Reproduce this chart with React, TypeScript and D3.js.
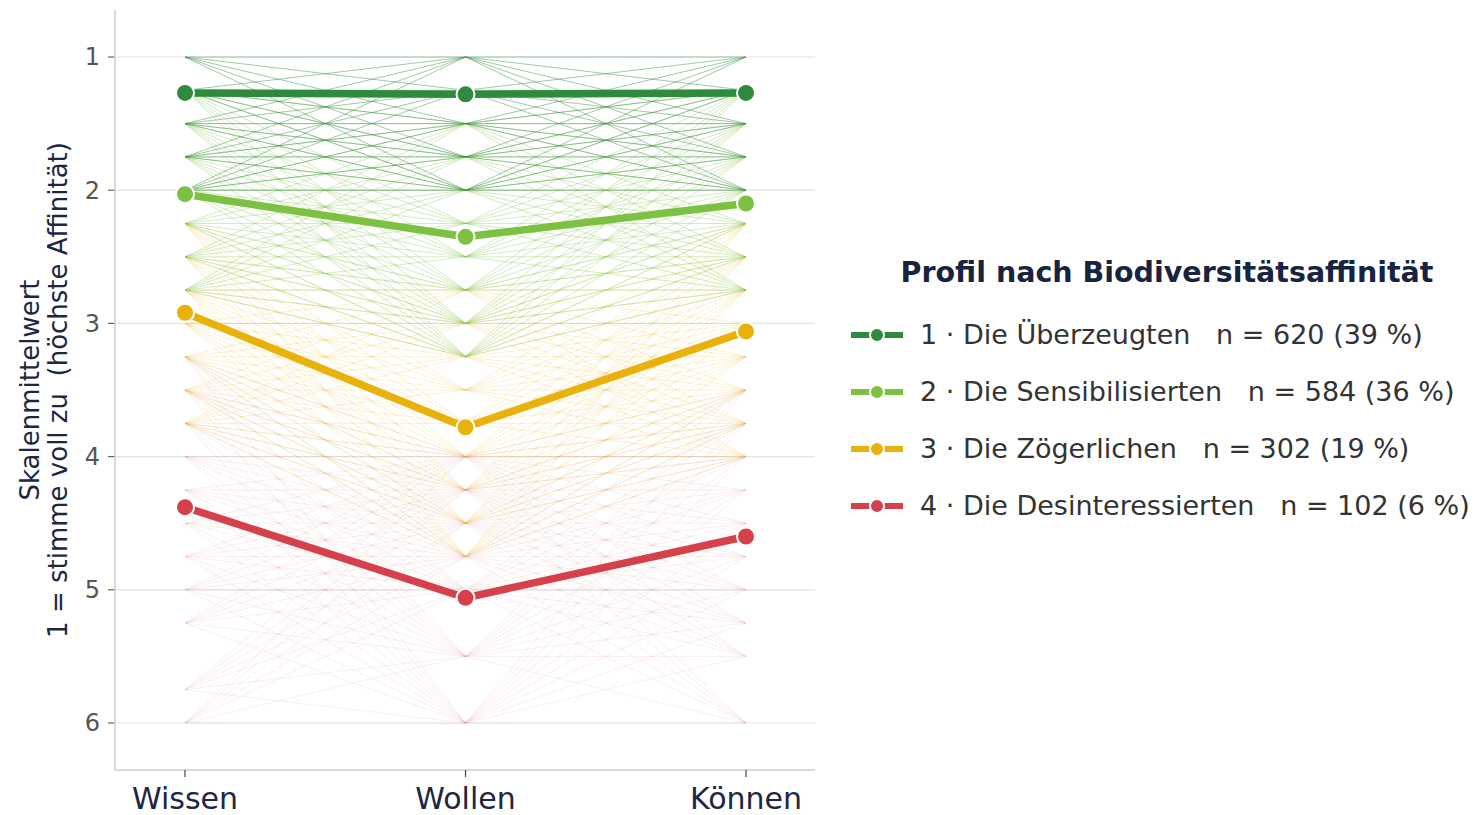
import React from "react";
import * as d3 from "d3";

const dims = ["Wissen", "Wollen", "Können"];
const yTicks = [1, 2, 3, 4, 5, 6];

const clusterNames = [
  "1 · Die Überzeugten",
  "2 · Die Sensibilisierten",
  "3 · Die Zögerlichen",
  "4 · Die Desinteressierten",
];
const clusterN = ["n = 620 (39 %)", "n = 584 (36 %)", "n = 302 (19 %)", "n = 102 (6 %)"];
const clusterColors = ["#2e8a3c", "#7cc142", "#e8b10c", "#d6404a"];

// mean profile per cluster (Wissen, Wollen, Können)
const meanUeberzeugt = [1.27, 1.28, 1.27];
const meanSensibel = [2.03, 2.35, 2.1];
const meanZoegernd = [2.92, 3.78, 3.06];
const meanDesinteresse = [4.38, 5.06, 4.6];
const means = [meanUeberzeugt, meanSensibel, meanZoegernd, meanDesinteresse];

// observed answer levels per cluster and dimension (respondent lines)
const levels1 = [
  [1, 1.25, 1.5, 1.75, 2],
  [1, 1.25, 1.5, 1.75, 2],
  [1, 1.25, 1.5, 1.75, 2],
];
const levels2 = [
  [1.25, 1.5, 1.75, 2, 2.25, 2.5, 2.75],
  [1.5, 1.75, 2, 2.25, 2.5, 2.75, 3, 3.25],
  [1.25, 1.5, 1.75, 2, 2.25, 2.5, 2.75],
];
const levels3 = [
  [2.25, 2.5, 2.75, 3, 3.25, 3.5, 3.75],
  [2.75, 3, 3.25, 3.5, 3.75, 4, 4.25, 4.5, 4.75],
  [2.25, 2.5, 2.75, 3, 3.25, 3.5, 3.75, 4],
];
const levels4 = [
  [3.25, 3.5, 3.75, 4, 4.25, 4.5, 4.75, 5, 5.25, 5.75, 6],
  [4, 4.25, 4.5, 4.75, 5, 5.5, 6],
  [3.5, 3.75, 4, 4.25, 4.5, 4.75, 5, 5.25, 5.5, 6],
];
const levels = [levels1, levels2, levels3, levels4];
const lineOpacity = [0.5, 0.36, 0.2, 0.1];

export default function App() {
  const width = 1480;
  const height = 815;
  const left = 115;
  const right = 815;
  const top = 10;
  const bottom = 770;

  const x = d3.scalePoint<string>().domain(dims).range([185, 746]);
  const y = d3.scaleLinear().domain([1, 6]).range([57, 723]);
  const font = "'DejaVu Sans', sans-serif";

  const segs: { x1: number; y1: number; x2: number; y2: number; c: number }[] = [];
  [3, 2, 1, 0].forEach((c) => {
    const lv = levels[c];
    for (let d = 0; d < 2; d++) {
      lv[d].forEach((a) => {
        lv[d + 1].forEach((b) => {
          segs.push({ x1: x(dims[d])!, y1: y(a), x2: x(dims[d + 1])!, y2: y(b), c });
        });
      });
    }
  });

  const line = d3
    .line<number>()
    .x((_, i) => x(dims[i])!)
    .y((d) => y(d));

  return (
    <svg width={width} height={height} style={{ display: "block", position: "absolute", left: 0, top: 0 }}>
      <rect width={width} height={height} fill="#fff" />
      {yTicks.map((t) => (
        <g key={t}>
          <line x1={left} x2={right} y1={y(t)} y2={y(t)} stroke="#e4e4e4" strokeWidth={1.2} />
          <line x1={left - 7} x2={left} y1={y(t)} y2={y(t)} stroke="#666" strokeWidth={1.2} />
          <text x={left - 15} y={y(t)} dy="0.35em" textAnchor="end" fontFamily={font} fontSize={24} fill="#555">
            {t}
          </text>
        </g>
      ))}
      <g>
        {segs.map((s, i) => (
          <line
            key={i}
            x1={s.x1}
            y1={s.y1}
            x2={s.x2}
            y2={s.y2}
            stroke={clusterColors[s.c]}
            strokeWidth={0.9}
            strokeOpacity={lineOpacity[s.c]}
          />
        ))}
      </g>
      <line x1={left} x2={left} y1={top} y2={bottom} stroke="#ccc" strokeWidth={1.5} />
      <line x1={left} x2={right} y1={bottom} y2={bottom} stroke="#ccc" strokeWidth={1.5} />
      {dims.map((d) => (
        <g key={d}>
          <line x1={x(d)!} x2={x(d)!} y1={bottom} y2={bottom + 7} stroke="#444" strokeWidth={1.2} />
          <text x={x(d)!} y={809} textAnchor="middle" fontFamily={font} fontSize={30} fill="#1c2742">
            {d}
          </text>
        </g>
      ))}
      {[3, 2, 1, 0].map((c) => (
        <g key={c}>
          <path d={line(means[c]) || ""} fill="none" stroke={clusterColors[c]} strokeWidth={7.5} strokeLinejoin="round" />
          {means[c].map((v, i) => (
            <circle key={i} cx={x(dims[i])!} cy={y(v)} r={9} fill={clusterColors[c]} stroke="#fff" strokeWidth={2} />
          ))}
        </g>
      ))}
      <text transform="translate(30,390) rotate(-90)" textAnchor="middle" fontFamily={font} fontSize={26} fill="#1c2742" dy="0.35em">
        Skalenmittelwert
      </text>
      <text transform="translate(58,390) rotate(-90)" textAnchor="middle" fontFamily={font} fontSize={26} fill="#1c2742" dy="0.35em" style={{ whiteSpace: "pre" }}>
        {"1 = stimme voll zu  (höchste Affinität)"}
      </text>
      <text x={1167} y={272} dy="0.35em" textAnchor="middle" fontFamily={font} fontSize={28.5} fontWeight="bold" fill="#17233f">
        Profil nach Biodiversitätsaffinität
      </text>
      {clusterNames.map((nm, i) => {
        const cy = 335 + i * 57;
        return (
          <g key={nm}>
            <line x1={851} x2={903} y1={cy} y2={cy} stroke={clusterColors[i]} strokeWidth={6} />
            <circle cx={877} cy={cy} r={7} fill={clusterColors[i]} stroke="#fff" strokeWidth={2} />
            <text x={920} y={cy} dy="0.35em" fontFamily={font} fontSize={27} fill="#333" style={{ whiteSpace: "pre" }}>
              {nm + "   " + clusterN[i]}
            </text>
          </g>
        );
      })}
    </svg>
  );
}
